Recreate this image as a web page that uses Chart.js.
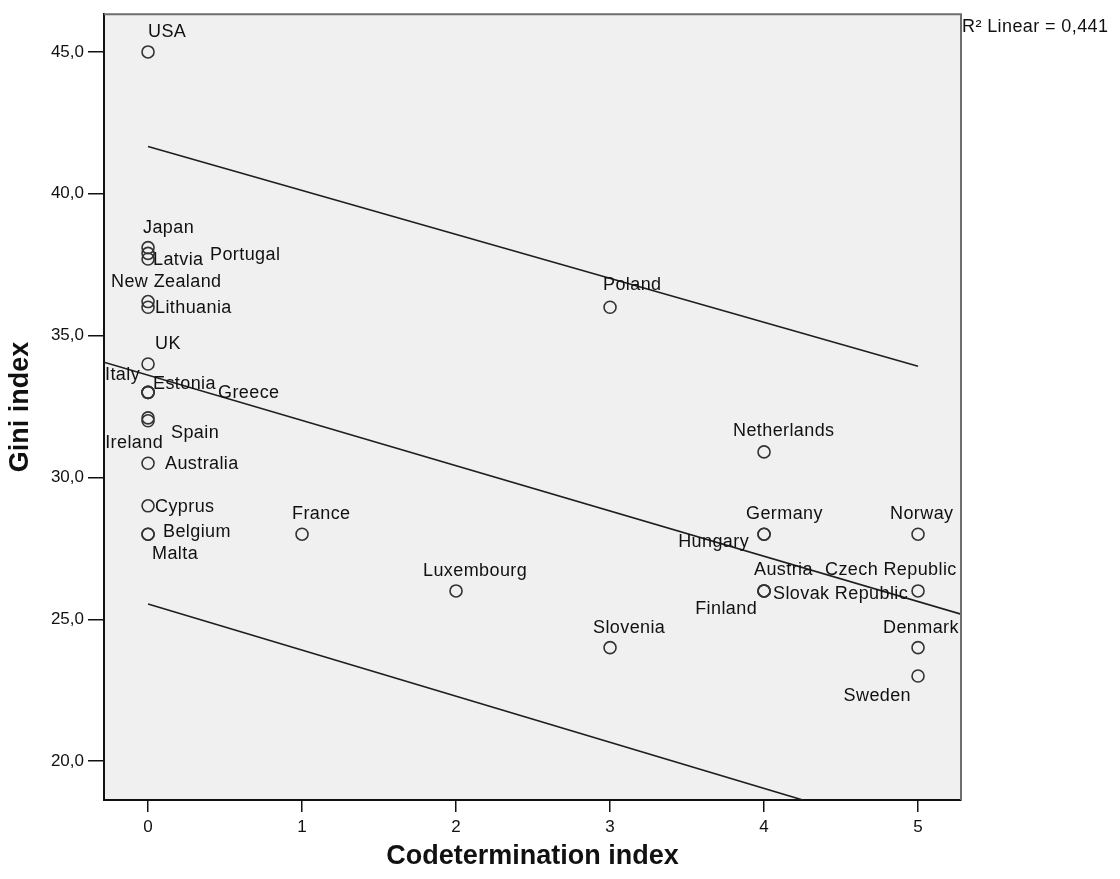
<!DOCTYPE html>
<html>
<head>
<meta charset="utf-8">
<script src="https://cdn.jsdelivr.net/npm/chart.js@4.4.1/dist/chart.umd.min.js"></script>
<style>
  html, body { margin: 0; padding: 0; background: #ffffff; }
  canvas { display: block; }
</style>
</head>
<body>
<canvas id="c" width="1120" height="879"></canvas>
<script>
// ---- data ----
const countries = ["USA","Japan","Latvia","Portugal","New Zealand","Lithuania","UK","Italy","Estonia","Greece",
  "Ireland","Spain","Australia","Cyprus","Belgium","Malta","France","Luxembourg","Poland","Slovenia",
  "Netherlands","Germany","Hungary","Austria","Slovak Republic","Finland","Czech Republic","Norway","Denmark","Sweden"];
const codetermination = [0,0,0,0,0,0,0,0,0,0, 0,0,0,0,0,0,1,2,3,3, 4,4,4,4,4,4,5,5,5,5];
const gini = [45.0,38.1,37.7,37.9,36.2,36.0,34.0,33.0,33.0,33.0, 32.0,32.1,30.5,29.0,28.0,28.0,28.0,26.0,36.0,24.0,
  30.9,28.0,28.0,26.0,26.0,26.0,26.0,28.0,24.0,23.0];

// fit line and prediction-interval lines (end values)
const fitX = [-0.286, 5.279];
const fitY = [34.06, 25.18];
const upperX = [0, 5];
const upperY = [41.67, 33.92];
const lowerX = [0, 4.27];
const lowerY = [25.54, 18.6];

const xTicks = [0, 1, 2, 3, 4, 5];
const yTicks = [20, 25, 30, 35, 40, 45];
const xRange = [-0.286, 5.279];
const yRange = [18.63, 46.33];
const r2Text = "R\u00B2 Linear = 0,441";

// label placement: [align, dx, dy] relative to point
const labelPlacement = {
  "USA":["left",0,-20], "Japan":["left",-5,-20], "Latvia":["left",5,1], "Portugal":["left",62,2],
  "New Zealand":["left",-37,-20], "Lithuania":["left",7,1], "UK":["left",7,-20], "Italy":["right",-8,-17],
  "Estonia":["left",5,-8], "Greece":["left",70,1], "Ireland":["right",15,22], "Spain":["left",23,15],
  "Australia":["left",17,1], "Cyprus":["left",7,1], "Belgium":["left",15,-2], "Malta":["left",4,20],
  "France":["left",-10,-20], "Luxembourg":["left",-33,-20], "Poland":["left",-7,-22], "Slovenia":["left",-17,-20],
  "Netherlands":["left",-31,-21], "Germany":["left",-18,-20], "Hungary":["right",-15,8], "Austria":["left",-10,-21],
  "Slovak Republic":["left",9,3], "Finland":["right",-7,18], "Czech Republic":["left",-93,-21],
  "Norway":["left",-28,-20], "Denmark":["left",-35,-20], "Sweden":["right",-7,20]
};

const pts = countries.map((n, i) => ({ x: codetermination[i], y: gini[i], name: n }));
const mkLine = (xs, ys) => xs.map((x, i) => ({ x: x, y: ys[i] }));

const labelFont = '18px "Liberation Sans", Arial, sans-serif';

const bgPlugin = {
  id: 'bg',
  beforeDraw(chart) {
    const a = chart.chartArea, ctx = chart.ctx;
    ctx.save();
    ctx.fillStyle = '#f0f0f0';
    ctx.fillRect(a.left, a.top, a.right - a.left, a.bottom - a.top);
    ctx.restore();
  },
  afterDraw(chart) {
    const a = chart.chartArea, ctx = chart.ctx;
    ctx.save();
    ctx.strokeStyle = '#6e6e6e';
    ctx.lineWidth = 2;
    ctx.beginPath();
    ctx.moveTo(a.left, a.top);
    ctx.lineTo(a.right, a.top);
    ctx.lineTo(a.right, a.bottom);
    ctx.stroke();
    // R squared note
    ctx.fillStyle = '#111';
    ctx.font = labelFont;
    if ('letterSpacing' in ctx) ctx.letterSpacing = '0.4px';
    ctx.textBaseline = 'middle';
    ctx.textAlign = 'left';
    ctx.fillText(r2Text, a.right + 1, 27);
    ctx.restore();
  }
};

const labelPlugin = {
  id: 'pointLabels',
  afterDatasetsDraw(chart) {
    const ctx = chart.ctx, a = chart.chartArea;
    const xs = chart.scales.x, ys = chart.scales.y;
    ctx.save();
    ctx.beginPath();
    ctx.rect(a.left, a.top, a.right - a.left, a.bottom - a.top);
    ctx.clip();
    ctx.font = labelFont;
    if ('letterSpacing' in ctx) ctx.letterSpacing = '0.4px';
    ctx.fillStyle = '#111';
    ctx.textBaseline = 'middle';
    pts.forEach(p => {
      const pl = labelPlacement[p.name] || ["left", 8, 0];
      ctx.textAlign = pl[0];
      ctx.fillText(p.name, xs.getPixelForValue(p.x) + pl[1], ys.getPixelForValue(p.y) + pl[2]);
    });
    ctx.restore();
  }
};

const tickFont = { family: '"Liberation Sans", Arial, sans-serif', size: 17 };
const titleFont = { family: '"Liberation Sans Narrow", "Liberation Sans", Arial, sans-serif', size: 27, weight: 'bold' };

new Chart(document.getElementById('c'), {
  type: 'scatter',
  data: {
    datasets: [
      { type: 'line', data: mkLine(fitX, fitY), borderColor: '#1e1e1e', borderWidth: 1.6, pointRadius: 0, fill: false, tension: 0 },
      { type: 'line', data: mkLine(upperX, upperY), borderColor: '#1e1e1e', borderWidth: 1.6, pointRadius: 0, fill: false, tension: 0 },
      { type: 'line', data: mkLine(lowerX, lowerY), borderColor: '#1e1e1e', borderWidth: 1.6, pointRadius: 0, fill: false, tension: 0 },
      { type: 'scatter', data: pts, pointRadius: 6, pointHoverRadius: 6, pointBorderWidth: 1.6,
        pointBorderColor: '#333333', pointBackgroundColor: 'rgba(0,0,0,0)' }
    ]
  },
  options: {
    responsive: false,
    animation: false,
    devicePixelRatio: 1,
    layout: { padding: { left: 0, top: 10, right: 159, bottom: 0 } },
    plugins: { legend: { display: false }, tooltip: { enabled: false } },
    scales: {
      x: {
        type: 'linear', min: xRange[0], max: xRange[1],
        afterBuildTicks: axis => { axis.ticks = xTicks.map(v => ({ value: v })); },
        afterFit: axis => { axis.height = 79; },
        ticks: { font: tickFont, color: '#111', padding: 5, maxRotation: 0, callback: v => String(v) },
        grid: { drawOnChartArea: false, drawTicks: true, tickLength: 12, color: '#111', lineWidth: 1.5 },
        border: { color: '#111', width: 2 },
        title: { display: true, text: 'Codetermination index', font: titleFont, color: '#111', padding: { top: 0, bottom: 6 } }
      },
      y: {
        type: 'linear', min: yRange[0], max: yRange[1],
        afterBuildTicks: axis => { axis.ticks = yTicks.map(v => ({ value: v })); },
        afterFit: axis => { axis.width = 104; },
        ticks: { font: tickFont, color: '#111', padding: 4, callback: v => v.toFixed(1).replace('.', ',') },
        grid: { drawOnChartArea: false, drawTicks: true, tickLength: 16, color: '#111', lineWidth: 1.5 },
        border: { color: '#111', width: 2 },
        title: { display: true, text: 'Gini index', font: titleFont, color: '#111', padding: { top: 4, bottom: 4 } }
      }
    }
  },
  plugins: [bgPlugin, labelPlugin]
});
</script>
</body>
</html>
